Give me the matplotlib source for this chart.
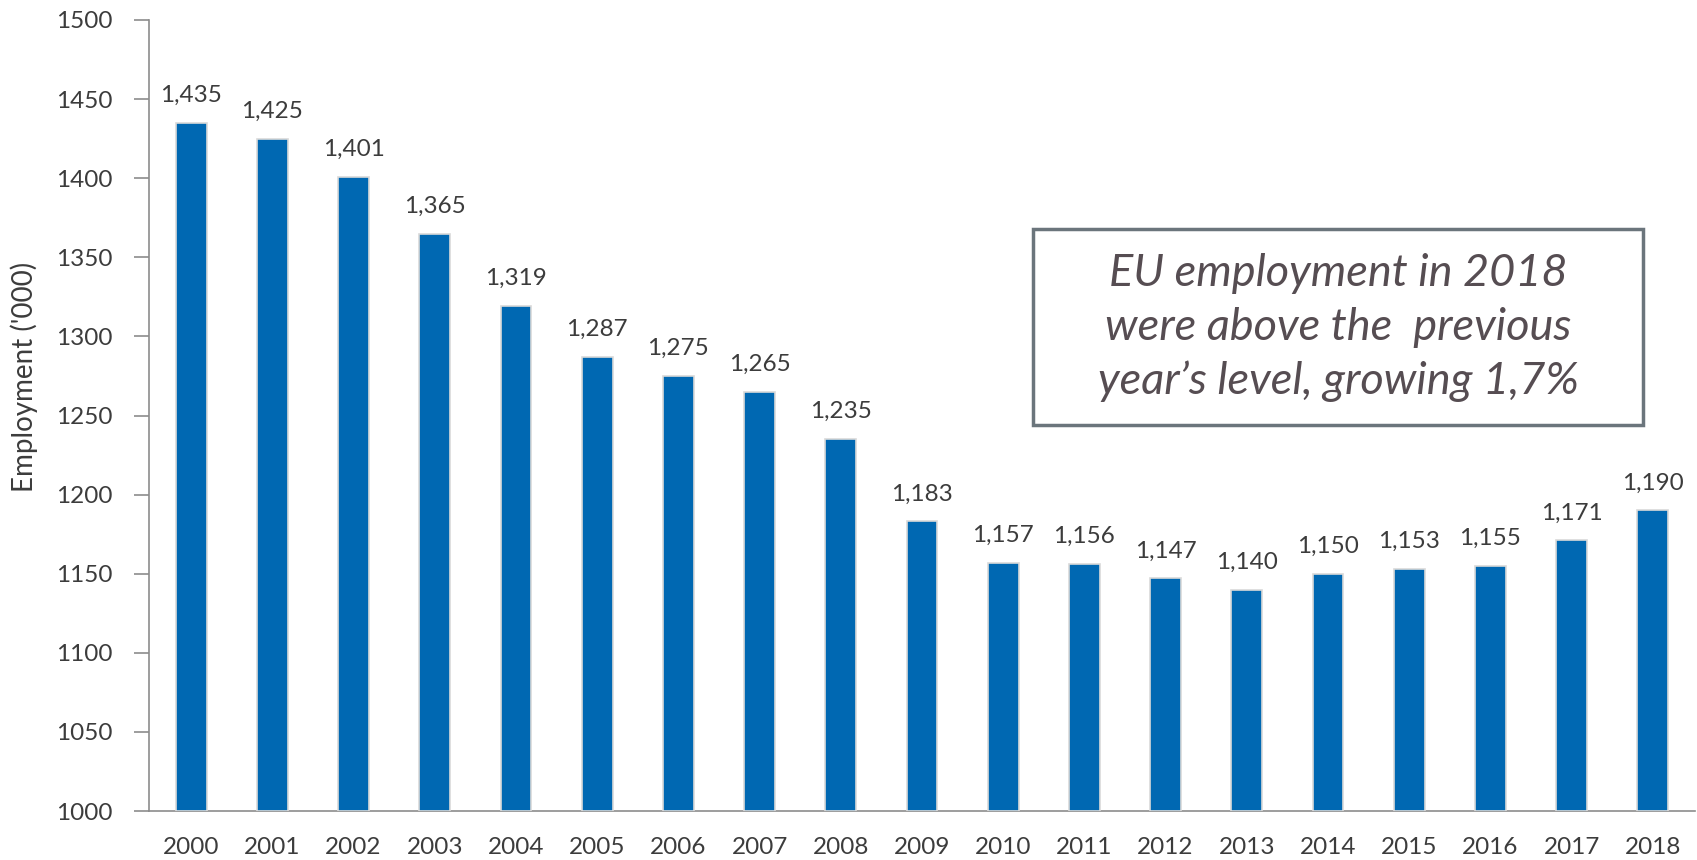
import matplotlib
matplotlib.use("Agg")
import matplotlib.pyplot as plt
from matplotlib.patches import Rectangle

years = ["2000", "2001", "2002", "2003", "2004", "2005", "2006", "2007", "2008", "2009",
         "2010", "2011", "2012", "2013", "2014", "2015", "2016", "2017", "2018"]
employment = [1435, 1425, 1401, 1365, 1319, 1287, 1275, 1265, 1235, 1183,
              1157, 1156, 1147, 1140, 1150, 1153, 1155, 1171, 1190]
y_ticks = [1000, 1050, 1100, 1150, 1200, 1250, 1300, 1350, 1400, 1450, 1500]
y_label = "Employment ('000)"
note_lines = ["EU employment in 2018", "were above the  previous", "year\u2019s level, growing 1,7%"]

W, H = 1697, 860
fig = plt.figure(figsize=(W / 100, H / 100), dpi=100)
ax = fig.add_axes([149 / W, (H - 811) / H, (1695 - 149) / W, (811 - 20) / H])

font = "Lato"
txt_col = "#3C3C3C"
bar_col = "#0068B2"

x = list(range(len(years)))
ax.bar(x, [v - 1000 for v in employment], bottom=1000, width=0.38, color=bar_col,
       edgecolor="#D9D9D9", linewidth=1.2, zorder=3)
for xi, v in zip(x, employment):
    ax.annotate(f"{v:,}", (xi, v), xytext=(0, 17), textcoords="offset pixels",
                ha="center", va="bottom", fontsize=17.5, family=font, color=txt_col)

ax.set_xlim(-0.52, len(years) - 0.48)
ax.set_ylim(1000, 1500)
ax.set_yticks(y_ticks)
ax.set_yticklabels([str(t) for t in y_ticks], family=font, fontsize=17.5, color=txt_col)
ax.set_xticks(x)
ax.set_xticklabels(years, family=font, fontsize=17.5, color=txt_col)
ax.tick_params(axis="x", length=0, pad=19)
ax.tick_params(axis="y", length=11, width=1.2, color="#8C8C8C", pad=15)
for s in ["top", "right"]:
    ax.spines[s].set_visible(False)
for s in ["left", "bottom"]:
    ax.spines[s].set_color("#8C8C8C")
    ax.spines[s].set_linewidth(1.2)
ax.set_ylabel(y_label, family=font, fontsize=20, color=txt_col)
ax.yaxis.set_label_coords((38 - 149) / (1695 - 149), (811 - 377) / (811 - 20))

# annotation box
bx0, bx1, by0, by1 = 1033, 1643, 229, 425
fig.patches.append(Rectangle((bx0 / W, (H - by1) / H), (bx1 - bx0) / W, (by1 - by0) / H,
                             transform=fig.transFigure, facecolor="white",
                             edgecolor="#6B757C", linewidth=2.5, zorder=5))
cx = (bx0 + bx1) / 2
for line, yy in zip(note_lines, [274, 327, 381]):
    fig.text(cx / W, (H - yy) / H, line, ha="center", va="center", fontsize=32.5,
             style="italic", family=font, color="#564D52", zorder=6)

fig.savefig("out.png", dpi=100)
